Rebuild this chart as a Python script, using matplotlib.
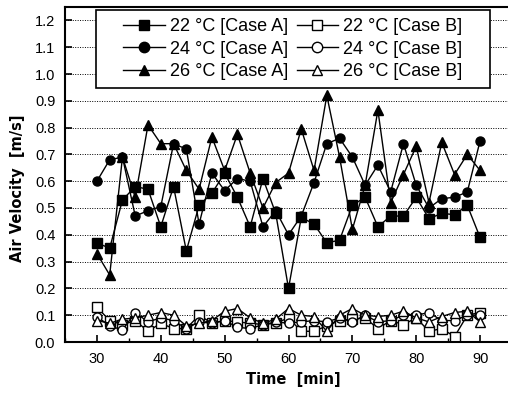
import matplotlib
matplotlib.use("Agg")
import matplotlib.pyplot as plt
from matplotlib.patches import Rectangle
from matplotlib.ticker import MultipleLocator

# tiempo [min]
tiempo = list(range(30, 91, 2))

# Case A
v22_a = [0.37, 0.35, 0.53, 0.58, 0.57, 0.43, 0.58, 0.34, 0.51, 0.555, 0.63,
         0.54, 0.43, 0.61, 0.48, 0.20, 0.465, 0.44, 0.37, 0.38, 0.51, 0.54,
         0.43, 0.47, 0.47, 0.54, 0.46, 0.48, 0.475, 0.51, 0.39]
v24_a = [0.60, 0.68, 0.69, 0.47, 0.49, 0.505, 0.74, 0.72, 0.44, 0.63, 0.565,
         0.61, 0.60, 0.43, 0.49, 0.40, 0.47, 0.595, 0.74, 0.76, 0.69, 0.585,
         0.66, 0.56, 0.74, 0.585, 0.50, 0.535, 0.54, 0.56, 0.75]
v26_a = [0.33, 0.25, 0.69, 0.54, 0.81, 0.74, 0.74, 0.64, 0.57, 0.765, 0.64,
         0.775, 0.63, 0.50, 0.595, 0.63, 0.795, 0.64, 0.92, 0.69, 0.42, 0.585,
         0.865, 0.52, 0.625, 0.73, 0.52, 0.745, 0.625, 0.70, 0.64]

# Case B
v22_b = [0.13, 0.08, 0.065, 0.08, 0.04, 0.07, 0.05, 0.05, 0.10, 0.07, 0.08,
         0.075, 0.07, 0.065, 0.07, 0.09, 0.04, 0.04, 0.06, 0.08, 0.085, 0.09,
         0.05, 0.08, 0.065, 0.09, 0.04, 0.05, 0.02, 0.10, 0.11]
v24_b = [0.095, 0.06, 0.045, 0.11, 0.075, 0.09, 0.08, 0.05, 0.075, 0.07, 0.08,
         0.055, 0.05, 0.065, 0.075, 0.07, 0.075, 0.08, 0.075, 0.09, 0.075, 0.10,
         0.075, 0.08, 0.10, 0.10, 0.11, 0.08, 0.08, 0.10, 0.10]
v26_b = [0.08, 0.07, 0.085, 0.09, 0.10, 0.11, 0.10, 0.06, 0.07, 0.08, 0.115,
         0.125, 0.09, 0.07, 0.085, 0.125, 0.10, 0.095, 0.04, 0.10, 0.125, 0.10,
         0.095, 0.10, 0.115, 0.09, 0.075, 0.095, 0.11, 0.115, 0.075]

etiquetas = ['22 °C [Case A]', '24 °C [Case A]', '26 °C [Case A]',
             '22 °C [Case B]', '24 °C [Case B]', '26 °C [Case B]']
series = [v22_a, v24_a, v26_a, v22_b, v24_b, v26_b]
marcadores = ['s', 'o', '^', 's', 'o', '^']
rellenos = ['black', 'black', 'black', 'white', 'white', 'white']

plt.rcParams['font.family'] = ['Liberation Sans', 'DejaVu Sans']

fig = plt.figure(figsize=(5.08, 3.93), dpi=100)
ax = fig.add_axes([65 / 508, 51 / 393, 447 / 508, 335 / 393])

for valores, etiqueta, m, c in zip(series, etiquetas, marcadores, rellenos):
    ax.plot(tiempo, valores, color='black', lw=1.0, marker=m, ms=6.5,
            markerfacecolor=c, markeredgecolor='black', markeredgewidth=1.0,
            label=etiqueta)

ax.set_xlim(25, 95)
ax.set_ylim(0, 1.25)
ax.xaxis.set_major_locator(MultipleLocator(10))
ax.xaxis.set_minor_locator(MultipleLocator(5))
ax.yaxis.set_major_locator(MultipleLocator(0.1))
ax.set_xticks(range(30, 91, 10))
ax.tick_params(axis='both', which='major', direction='in', length=5, width=1.2,
               labelsize=10.5, pad=7)
ax.tick_params(axis='x', which='minor', direction='in', length=3, width=1)
ax.yaxis.set_major_formatter(matplotlib.ticker.FormatStrFormatter('%.1f'))
ax.grid(axis='y', linestyle=(0, (1, 1.5)), color='black', lw=0.7)
for s in ax.spines.values():
    s.set_linewidth(1.5)

ax.set_xlabel('Time  [min]', fontsize=10.5, fontweight='bold',
              family=['DejaVu Sans'])
ax.set_ylabel('Air Velocity  [m/s]', fontsize=10.5, fontweight='bold',
              family=['DejaVu Sans'])
ax.xaxis.set_label_coords(0.51, -0.09)
ax.yaxis.set_label_coords(-0.09, 0.46)

# caja de la leyenda (más holgada que la de matplotlib)
caja = Rectangle((0.069, 0.758), 0.882, 0.233, transform=ax.transAxes,
                 facecolor='white', edgecolor='black', lw=1.2, zorder=4)
ax.add_patch(caja)

leg = ax.legend(ncol=2, loc='center', bbox_to_anchor=(0.51, 0.8745),
                fontsize=13, frameon=False, handlelength=2.3,
                columnspacing=0.45, handletextpad=0.3, labelspacing=0.3,
                borderpad=0.2, markerscale=1.15)
leg.set_zorder(5)

fig.savefig('out.png', dpi=100)
